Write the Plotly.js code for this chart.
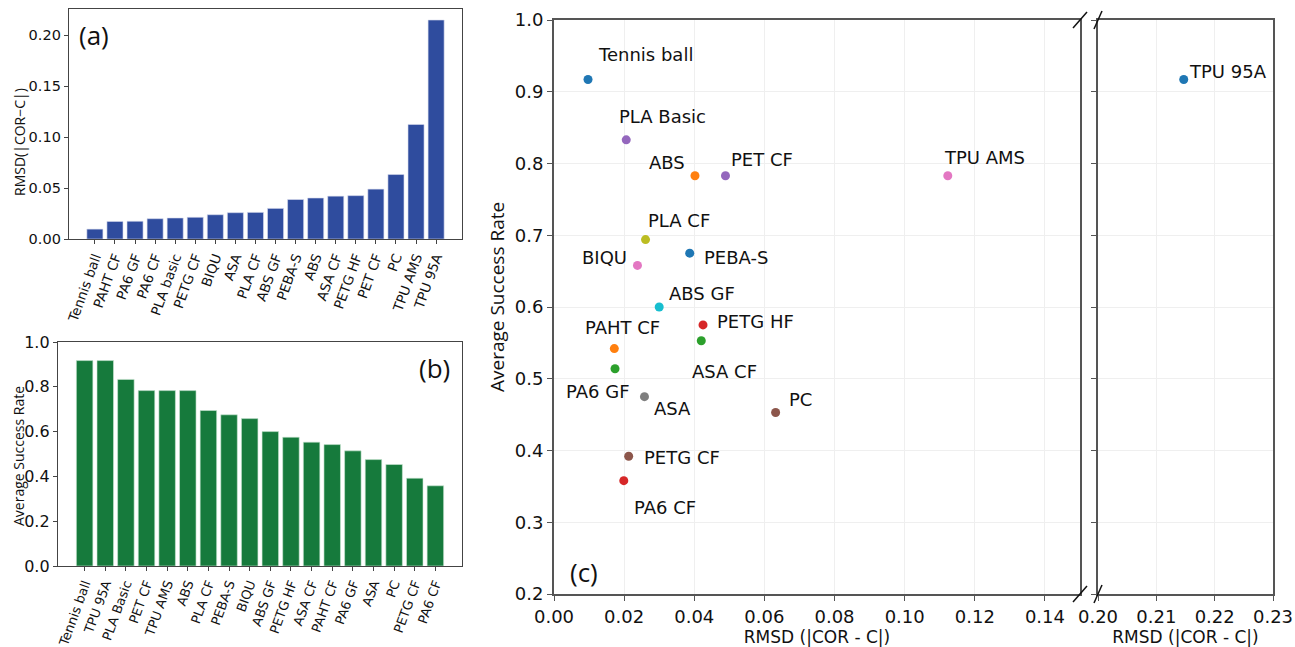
<!DOCTYPE html>
<html>
<head>
<meta charset="utf-8">
<script src="https://cdn.plot.ly/plotly-3.0.1.min.js"></script>
<style>html,body{margin:0;padding:0;background:#fff;}#chart{width:1295px;height:647px;}</style>
</head>
<body>
<div id="chart"></div>
<script>
// ---------- DATA ----------
// Panel (a): materials sorted by RMSD
const namesA = ['Tennis ball','PAHT CF','PA6 GF','PA6 CF','PLA basic','PETG CF','BIQU','ASA','PLA CF','ABS GF','PEBA-S','ABS','ASA CF','PETG HF','PET CF','PC','TPU AMS','TPU 95A'];
const rmsdA = [0.0097,0.0172,0.0174,0.0199,0.0206,0.0213,0.0238,0.0258,0.0261,0.0300,0.0387,0.0402,0.0420,0.0425,0.0489,0.0632,0.1123,0.2147];
// success rate in the same order as namesA
const successA = [0.917,0.542,0.514,0.358,0.833,0.392,0.658,0.475,0.694,0.600,0.675,0.783,0.553,0.575,0.783,0.453,0.783,0.917];

// Panel (b): materials sorted by average success rate
const namesB = ['Tennis ball','TPU 95A','PLA Basic','PET CF','TPU AMS','ABS','PLA CF','PEBA-S','BIQU','ABS GF','PETG HF','ASA CF','PAHT CF','PA6 GF','ASA','PC','PETG CF','PA6 CF'];
const successB = [0.917,0.917,0.833,0.783,0.783,0.783,0.694,0.675,0.658,0.600,0.575,0.553,0.542,0.514,0.475,0.453,0.392,0.358];

// Panel (c): point labels (same order as namesA)
const namesC = ['Tennis ball','PAHT CF','PA6 GF','PA6 CF','PLA Basic','PETG CF','BIQU','ASA','PLA CF','ABS GF','PEBA-S','ABS','ASA CF','PETG HF','PET CF','PC','TPU AMS','TPU 95A'];

// ---------- STYLE ----------
const tab10 = ['#1f77b4','#ff7f0e','#2ca02c','#d62728','#9467bd','#8c564b','#e377c2','#7f7f7f','#bcbd22','#17becf'];
// label placement: [xanchor, xshift px, yshift px]
const labelPos = [
  ['left',8,25],['left',-31,21],['right',17,-23],['left',8,-27],['left',-9,23],['left',13,-1],
  ['right',-8,8],['left',8,-12],['left',0,19],['left',8,14],['left',12,-4],['right',-8,13],
  ['left',-11,-31],['left',12,3],['left',4,16],['left',11,13],['left',-6,18],['left',3,8]
];
const W = 1295, H = 647;
const px = v => v / W;
const py = v => 1 - v / H;
const TF = 'DejaVu Sans, sans-serif';
const OF = 'Open Sans, DejaVu Sans, sans-serif';
const splitX = 0.15; // right panel starts after break

const leftIdx = [], rightIdx = [];
rmsdA.forEach((v,i)=>{ (v < splitX ? leftIdx : rightIdx).push(i); });

const traces = [
  {type:'bar', x:namesA, y:rmsdA, xaxis:'x', yaxis:'y', width:0.8,
   marker:{color:'#2f4c9e', line:{color:'#d8dcef', width:0.6}}, hoverinfo:'x+y'},
  {type:'bar', x:namesB, y:successB, xaxis:'x2', yaxis:'y2', width:0.8,
   marker:{color:'#167a3c', line:{color:'#cde8d5', width:0.6}}, hoverinfo:'x+y'},
  {type:'scatter', mode:'markers', x:leftIdx.map(i=>rmsdA[i]), y:leftIdx.map(i=>successA[i]),
   text:leftIdx.map(i=>namesC[i]), xaxis:'x3', yaxis:'y3',
   marker:{size:9, color:leftIdx.map(i=>tab10[i%10])}},
  {type:'scatter', mode:'markers', x:rightIdx.map(i=>rmsdA[i]), y:rightIdx.map(i=>successA[i]),
   text:rightIdx.map(i=>namesC[i]), xaxis:'x4', yaxis:'y4',
   marker:{size:9, color:rightIdx.map((i,k)=>tab10[k%10])}}
];

const annotations = [];
namesC.forEach((n,i)=>{
  const right = rmsdA[i] >= splitX;
  annotations.push({text:n, x:rmsdA[i], y:successA[i], xref: right?'x4':'x3', yref: right?'y4':'y3',
    showarrow:false, xanchor:labelPos[i][0], yanchor:'middle', xshift:labelPos[i][1], yshift:labelPos[i][2],
    font:{family:TF, size:18, color:'#111'}});
});
const paperText = (text, x, y, size, angle) => ({text:text, xref:'paper', yref:'paper', x:px(x), y:py(y),
  xanchor:'center', yanchor:'middle', textangle:angle||0, showarrow:false, font:{family:OF,size:size,color:'#111'}});
// panel letters
annotations.push(paperText('(a)', 94, 35, 26));
annotations.push(paperText('(b)', 434, 368, 26));
annotations.push(paperText('(c)', 584, 572, 26));
// y-axis titles
annotations.push(paperText('RMSD(|COR\u2212C|)', 19, 142, 14, -90));
annotations.push(paperText('Average Success Rate', 18, 456, 14, -90));
annotations.push(paperText('Average Success Rate', 497, 297, 19, -90));

// break marks
const shapes = [];
const brk = (xp, yp, dx, dy) => ({type:'line', xref:'paper', yref:'paper', xsizemode:'pixel', ysizemode:'pixel',
  xanchor:xp, yanchor:yp, x0:-dx, x1:dx, y0:-dy, y1:dy, line:{color:'#111', width:1.5}});
shapes.push(brk(px(1080), py(20), 7, 8));
shapes.push(brk(px(1098), py(20), 4, 9));
shapes.push(brk(px(1080), py(594), 7, 8));
shapes.push(brk(px(1098), py(594), 4, 9));

const frame = {showline:true, mirror:true, linecolor:'#444', linewidth:1.2, ticks:'outside', ticklen:4, tickcolor:'#444', zeroline:false, showgrid:false, automargin:false};
const cFrame = {showline:true, mirror:true, linecolor:'#555', linewidth:2, ticks:'outside', ticklen:5, tickcolor:'#555', zeroline:false, showgrid:true, gridcolor:'#efefef', gridwidth:1, automargin:false};

const layout = {
  width:W, height:H, margin:{l:0,r:0,t:0,b:0}, paper_bgcolor:'#fff', plot_bgcolor:'#fff', showlegend:false,
  xaxis: Object.assign({}, frame, {domain:[px(69),px(462)], anchor:'y', type:'category', range:[-1.29,18.29],
    tickangle:-70, tickfont:{family:TF,size:13.5,color:'#111'}}),
  yaxis: Object.assign({}, frame, {domain:[py(239),py(9)], anchor:'x', range:[0,0.2255], dtick:0.05, tick0:0, tickformat:'.2f',
    tickfont:{family:TF,size:14.5,color:'#111'}}),
  xaxis2: Object.assign({}, frame, {domain:[px(58),px(462)], anchor:'y2', type:'category', range:[-1.29,18.29],
    tickangle:-70, tickfont:{family:TF,size:13,color:'#111'}}),
  yaxis2: Object.assign({}, frame, {domain:[py(566),py(342)], anchor:'x2', range:[0,1], dtick:0.2, tick0:0, tickformat:'.1f',
    tickfont:{family:TF,size:16,color:'#111'}}),
  xaxis3: Object.assign({}, cFrame, {domain:[px(554),px(1080)], anchor:'y3', range:[0,0.15], dtick:0.02, tick0:0, tickformat:'.2f',
    tickfont:{family:TF,size:18,color:'#111'},
    title:{text:'RMSD (|COR - C|)', font:{family:TF,size:17,color:'#111'}, standoff:4}}),
  yaxis3: Object.assign({}, cFrame, {domain:[py(594),py(20)], anchor:'x3', range:[0.2,1.0], dtick:0.1, tick0:0.2, tickformat:'.1f',
    tickfont:{family:TF,size:18,color:'#111'}}),
  xaxis4: Object.assign({}, cFrame, {domain:[px(1098),px(1273)], anchor:'y4', range:[0.2,0.23], dtick:0.01, tick0:0.2, tickformat:'.2f',
    tickfont:{family:TF,size:18,color:'#111'},
    title:{text:'RMSD (|COR - C|)', font:{family:TF,size:17,color:'#111'}, standoff:4}}),
  yaxis4: Object.assign({}, cFrame, {domain:[py(594),py(20)], anchor:'x4', range:[0.2,1.0], dtick:0.1, tick0:0.2, showticklabels:false}),
  annotations: annotations,
  shapes: shapes,
  bargap:0.2
};

Plotly.newPlot('chart', traces, layout, {displayModeBar:false, staticPlot:true});
</script>
</body>
</html>
